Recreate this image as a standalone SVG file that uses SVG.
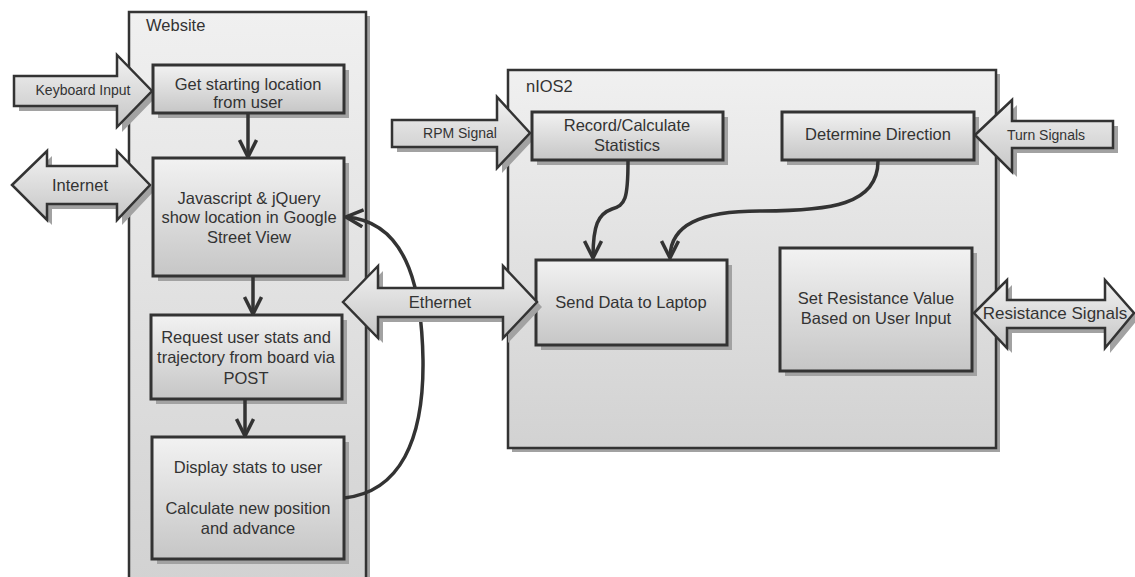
<svg xmlns="http://www.w3.org/2000/svg" width="1135" height="577" viewBox="0 0 1135 577">
<style>
text{font-family:"Liberation Sans",Arial,sans-serif;fill:#333;text-anchor:middle}
.t{font-size:16.5px}
.s{font-size:14px}
.lbl{font-size:16.5px;text-anchor:start}
.cont{fill:url(#gc);stroke:#333;stroke-width:2.5}
.box{fill:url(#gb);stroke:#333;stroke-width:3}
.arr{fill:url(#gb);stroke:#333;stroke-width:2.5;stroke-linejoin:miter}
.sh{fill:#a2a2a2}
.c{fill:none;stroke:#333;stroke-width:3.5}
</style>
<defs>
<linearGradient id="gc" x1="0" y1="0" x2="0" y2="1"><stop offset="0" stop-color="#f0f0f0"/><stop offset="1" stop-color="#d2d2d2"/></linearGradient>
<linearGradient id="gb" x1="0" y1="0" x2="0" y2="1"><stop offset="0" stop-color="#f2f2f2"/><stop offset="1" stop-color="#c6c6c6"/></linearGradient>
<marker id="ah" viewBox="0 0 20 20" markerWidth="20" markerHeight="20" refX="18" refY="10" orient="auto" markerUnits="userSpaceOnUse">
<path d="M1,1.5 L18,10 L1,18.5" fill="none" stroke="#333" stroke-width="3.5"/>
</marker>
</defs>

<g id="website">
<rect class="sh" x="133" y="16" width="237" height="570"/>
<rect class="cont" x="129" y="12" width="237" height="570"/>
<text class="lbl" x="146" y="31">Website</text>
</g>

<g id="nios2">
<rect class="sh" x="512" y="74" width="488" height="378"/>
<rect class="cont" x="508" y="70" width="488" height="378"/>
<text class="lbl" x="526" y="92">nIOS2</text>
</g>

<g id="keyboard-input">
<polygon class="sh" points="19,81 122,81 122,60 157,96 122,132 122,111 19,111"/>
<polygon class="arr" points="14,76 117,76 117,55 152,91 117,127 117,106 14,106"/>
<text class="s" x="83" y="95">Keyboard Input</text>
</g>

<g id="internet">
<polygon class="sh" points="17,190 52,156 52,171 122,171 122,156 155,190 122,225 122,209 52,209 52,225"/>
<polygon class="arr" points="12,185 47,151 47,166 117,166 117,151 150,185 117,220 117,204 47,204 47,220"/>
<text class="t" x="80" y="191">Internet</text>
</g>

<g id="get-location">
<rect class="sh" x="158" y="70" width="191" height="48"/>
<rect class="box" x="153" y="65" width="191" height="48"/>
<text class="t" x="248" y="90">Get starting location</text>
<text class="t" x="248" y="108">from user</text>
</g>

<g id="javascript">
<rect class="sh" x="158" y="163" width="191" height="118"/>
<rect class="box" x="153" y="158" width="191" height="118"/>
<text class="t" x="249" y="204">Javascript &amp; jQuery</text>
<text class="t" x="249" y="223">show location in Google</text>
<text class="t" x="249" y="243">Street View</text>
</g>

<g id="request">
<rect class="sh" x="156" y="320" width="191" height="84"/>
<rect class="box" x="151" y="315" width="191" height="84"/>
<text class="t" x="246" y="343">Request user stats and</text>
<text class="t" x="246" y="363">trajectory from board via</text>
<text class="t" x="246" y="384">POST</text>
</g>

<g id="display">
<rect class="sh" x="157" y="442" width="192" height="122"/>
<rect class="box" x="152" y="437" width="192" height="122"/>
<text class="t" x="248" y="473">Display stats to user</text>
<text class="t" x="248" y="514">Calculate new position</text>
<text class="t" x="248" y="534">and advance</text>
</g>

<g id="rpm-signal">
<polygon class="sh" points="397,125 502,125 502,102 535,138 502,173 502,152 397,152"/>
<polygon class="arr" points="392,120 497,120 497,97 530,133 497,168 497,147 392,147"/>
<text class="s" x="460" y="138">RPM Signal</text>
</g>

<g id="record">
<rect class="sh" x="537" y="117" width="191" height="48"/>
<rect class="box" x="532" y="112" width="191" height="48"/>
<text class="t" x="627" y="131">Record/Calculate</text>
<text class="t" x="627" y="151">Statistics</text>
</g>

<g id="direction">
<rect class="sh" x="787" y="117" width="192" height="48"/>
<rect class="box" x="782" y="112" width="192" height="48"/>
<text class="t" x="878" y="140">Determine Direction</text>
</g>

<g id="turn-signals">
<polygon class="sh" points="980,140 1017,105 1017,126 1118,126 1118,153 1017,153 1017,177"/>
<polygon class="arr" points="975,135 1012,100 1012,121 1113,121 1113,148 1012,148 1012,172"/>
<text class="s" x="1046" y="140">Turn Signals</text>
</g>

<g id="send-data">
<rect class="sh" x="541" y="265" width="191" height="85"/>
<rect class="box" x="536" y="260" width="191" height="85"/>
<text class="t" x="631" y="308">Send Data to Laptop</text>
</g>

<g id="set-resistance">
<rect class="sh" x="785" y="253" width="192" height="123"/>
<rect class="box" x="780" y="248" width="192" height="123"/>
<text class="t" x="876" y="304">Set Resistance Value</text>
<text class="t" x="876" y="324">Based on User Input</text>
</g>

<g id="resistance-signals">
<polygon class="sh" points="979,318 1012,285 1012,305 1110,305 1110,285 1139,318 1110,353 1110,333 1012,333 1012,353"/>
<polygon class="arr" points="974,313 1007,280 1007,300 1105,300 1105,280 1134,313 1105,348 1105,328 1007,328 1007,348"/>
<text x="1055" y="319" style="font-size:17px">Resistance Signals</text>
</g>

<g id="connectors">
<path class="c" d="M248,113 L248,157" marker-end="url(#ah)"/>
<path class="c" d="M253,276 L253,314" marker-end="url(#ah)"/>
<path class="c" d="M245,399 L245,436" marker-end="url(#ah)"/>
<path class="c" d="M628,161 C628,200 625,205 612,209 C598,214 593,225 593,258" marker-end="url(#ah)"/>
<path class="c" d="M878,161 C878,205 830,211 760,211 C700,211 670,225 670,258" marker-end="url(#ah)"/>
<path class="c" d="M344,498 C400,492 424,440 423,360 C422,300 412,222 346,217" marker-end="url(#ah)"/>
</g>

<g id="ethernet">
<polygon class="sh" points="348,307 383,271 383,293 508,293 508,271 542,307 508,343 508,322 383,322 383,343"/>
<polygon class="arr" points="343,302 378,266 378,288 503,288 503,266 537,302 503,338 503,317 378,317 378,338"/>
<text class="t" x="440" y="308">Ethernet</text>
</g>
</svg>
